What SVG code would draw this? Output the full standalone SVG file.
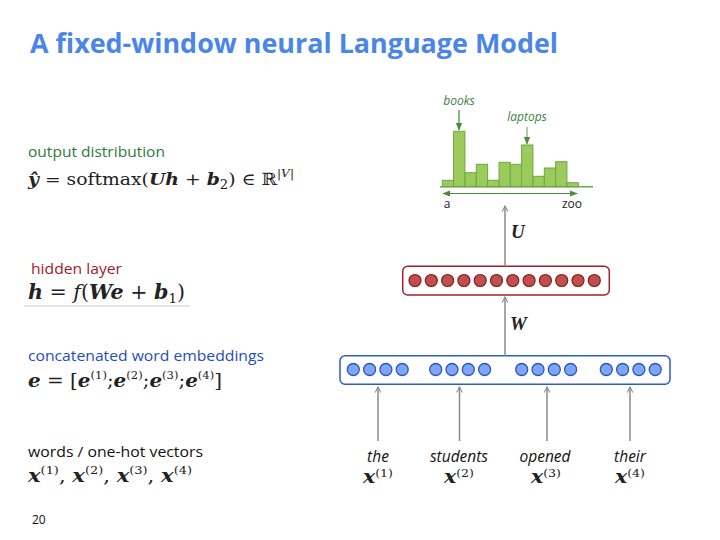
<svg xmlns="http://www.w3.org/2000/svg" width="720" height="540" viewBox="0 0 720 540">
<defs>
<marker id="gh" viewBox="0 0 10 10" refX="9" refY="5" markerWidth="7" markerHeight="7" orient="auto-start-reverse" markerUnits="userSpaceOnUse">
<path d="M1,1 L9,5 L1,9" fill="none" stroke="#8a8a8a" stroke-width="1.5"/>
</marker>
<marker id="gr" viewBox="0 0 10 10" refX="9" refY="5" markerWidth="8" markerHeight="8" orient="auto-start-reverse" markerUnits="userSpaceOnUse">
<path d="M0,1 L10,5 L0,9 Z" fill="#4e8a3e"/>
</marker>
</defs>
<style>
.sans{font-family:"Open Sans","Liberation Sans",sans-serif}
.math{font-family:"DejaVu Serif","Liberation Serif",serif;fill:#222}
.bi{font-weight:bold;font-style:italic}
.it{font-style:italic}
.bar{fill:#9bcb5b;stroke:#6fa648;stroke-width:1}
.hc{fill:#c0504d;stroke:#8b1a1a;stroke-width:1.2}
.ec{fill:#7ea6f2;stroke:#2a55c8;stroke-width:1.3}
.conn{stroke:#8a8a8a;stroke-width:1.5;fill:none}
.word{font-family:"Open Sans","Liberation Sans",sans-serif;font-style:italic;font-size:15.5px;fill:#111}
.sup{font-size:11px;font-weight:normal;font-style:normal}
.lu{font-family:"Liberation Serif",serif}
</style>
<rect width="720" height="540" fill="#fff"/>
<text x="30" y="53" class="sans" font-size="26" font-weight="bold" fill="#4a86e8" textLength="528" lengthAdjust="spacingAndGlyphs">A fixed-window neural Language Model</text>

<g id="label-output">
<text x="28" y="157" class="sans" font-size="15" fill="#2e7b3a" textLength="137" lengthAdjust="spacingAndGlyphs">output distribution</text>
<text x="28" y="185" class="math" font-size="17" textLength="266" lengthAdjust="spacingAndGlyphs"><tspan class="bi">ŷ</tspan> = softmax(<tspan class="bi">Uh</tspan> + <tspan class="bi">b</tspan><tspan font-size="12" dy="4">2</tspan><tspan dy="-4">) ∈ ℝ</tspan><tspan font-size="11" dy="-8">|<tspan class="it">V</tspan>|</tspan></text>
</g>
<g id="label-hidden">
<text x="31" y="274" class="sans" font-size="15" fill="#a3202a" textLength="91" lengthAdjust="spacingAndGlyphs">hidden layer</text>
<text x="28" y="299" class="math" font-size="20" textLength="157" lengthAdjust="spacingAndGlyphs"><tspan class="bi">h</tspan> = <tspan class="it">f</tspan>(<tspan class="bi">We</tspan> + <tspan class="bi">b</tspan><tspan font-size="13" dy="4">1</tspan><tspan dy="-4">)</tspan></text>
<line x1="24" y1="306" x2="190" y2="306" stroke="#c8c8c8" stroke-width="1"/>
</g>
<g id="label-embed">
<text x="28" y="361" class="sans" font-size="15" fill="#1f4bc1" textLength="236" lengthAdjust="spacingAndGlyphs">concatenated word embeddings</text>
<text x="28" y="387" class="math" font-size="19" textLength="194" lengthAdjust="spacingAndGlyphs"><tspan class="bi">e</tspan> = [<tspan class="bi">e</tspan><tspan class="sup" dy="-8">(1)</tspan><tspan dy="8">;</tspan><tspan class="bi">e</tspan><tspan class="sup" dy="-8">(2)</tspan><tspan dy="8">;</tspan><tspan class="bi">e</tspan><tspan class="sup" dy="-8">(3)</tspan><tspan dy="8">;</tspan><tspan class="bi">e</tspan><tspan class="sup" dy="-8">(4)</tspan><tspan dy="8">]</tspan></text>
</g>
<g id="label-words">
<text x="28" y="457" class="sans" font-size="15" fill="#111" textLength="175" lengthAdjust="spacingAndGlyphs">words / one-hot vectors</text>
<text x="28" y="482" class="math" font-size="18" textLength="164" lengthAdjust="spacingAndGlyphs"><tspan class="bi">x</tspan><tspan class="sup" dy="-8">(1)</tspan><tspan dy="8">, </tspan><tspan class="bi">x</tspan><tspan class="sup" dy="-8">(2)</tspan><tspan dy="8">, </tspan><tspan class="bi">x</tspan><tspan class="sup" dy="-8">(3)</tspan><tspan dy="8">, </tspan><tspan class="bi">x</tspan><tspan class="sup" dy="-8">(4)</tspan></text>
</g>
<text x="32" y="524" class="sans" font-size="12" fill="#111">20</text>

<g id="histogram">
<rect class="bar" x="442.3" y="180.3" width="11.33" height="6.4"/>
<rect class="bar" x="453.6" y="131.3" width="11.33" height="55.4"/>
<rect class="bar" x="465" y="172.7" width="11.33" height="14"/>
<rect class="bar" x="476.3" y="164.3" width="11.33" height="22.4"/>
<rect class="bar" x="487.6" y="180.3" width="11.33" height="6.4"/>
<rect class="bar" x="499" y="162.3" width="11.33" height="24.4"/>
<rect class="bar" x="510.3" y="164.3" width="11.33" height="22.4"/>
<rect class="bar" x="521.6" y="145" width="11.33" height="41.7"/>
<rect class="bar" x="533" y="176.3" width="11.33" height="10.4"/>
<rect class="bar" x="544.3" y="168" width="11.33" height="18.7"/>
<rect class="bar" x="555.6" y="161.7" width="11.33" height="25"/>
<rect class="bar" x="567" y="182.7" width="11.33" height="4"/>
<line x1="440" y1="186.7" x2="593" y2="186.7" stroke="#6fa648" stroke-width="1.6"/>
<line x1="443" y1="193.5" x2="577" y2="193.5" stroke="#4e8a3e" stroke-width="1.2" marker-start="url(#gr)" marker-end="url(#gr)"/>
<text x="447" y="208" class="sans" font-size="12" fill="#222" text-anchor="middle">a</text>
<text x="572" y="208" class="sans" font-size="12" fill="#222" text-anchor="middle">zoo</text>
<text x="459" y="105" class="sans" font-size="12" font-style="italic" fill="#3d7f45" text-anchor="middle">books</text>
<line x1="459" y1="110" x2="459" y2="130" stroke="#3d7f45" stroke-width="1.2" marker-end="url(#gr)"/>
<text x="527" y="121" class="sans" font-size="12" font-style="italic" fill="#3d7f45" text-anchor="middle">laptops</text>
<line x1="527" y1="127" x2="527" y2="144" stroke="#7fa87a" stroke-width="1.2" marker-end="url(#gr)"/>
</g>

<g id="hidden-layer">
<rect x="402.7" y="266.3" width="206.6" height="28.7" rx="5" fill="#fff" stroke="#a3202a" stroke-width="1.5"/>
<circle class="hc" cx="415" cy="280.5" r="6"/>
<circle class="hc" cx="431.3" cy="280.5" r="6"/>
<circle class="hc" cx="447.6" cy="280.5" r="6"/>
<circle class="hc" cx="463.9" cy="280.5" r="6"/>
<circle class="hc" cx="480.2" cy="280.5" r="6"/>
<circle class="hc" cx="496.5" cy="280.5" r="6"/>
<circle class="hc" cx="512.8" cy="280.5" r="6"/>
<circle class="hc" cx="529.1" cy="280.5" r="6"/>
<circle class="hc" cx="545.4" cy="280.5" r="6"/>
<circle class="hc" cx="561.7" cy="280.5" r="6"/>
<circle class="hc" cx="578" cy="280.5" r="6"/>
<circle class="hc" cx="594.3" cy="280.5" r="6"/>
</g>

<g id="embedding-layer">
<rect x="340" y="355.7" width="330" height="28.6" rx="5" fill="#fff" stroke="#2f5acb" stroke-width="1.5"/>
<circle class="ec" cx="353.3" cy="369.5" r="6"/>
<circle class="ec" cx="369.6" cy="369.5" r="6"/>
<circle class="ec" cx="385.9" cy="369.5" r="6"/>
<circle class="ec" cx="402.2" cy="369.5" r="6"/>
<circle class="ec" cx="435.7" cy="369.5" r="6"/>
<circle class="ec" cx="452" cy="369.5" r="6"/>
<circle class="ec" cx="468.3" cy="369.5" r="6"/>
<circle class="ec" cx="484.6" cy="369.5" r="6"/>
<circle class="ec" cx="521.7" cy="369.5" r="6"/>
<circle class="ec" cx="538" cy="369.5" r="6"/>
<circle class="ec" cx="554.3" cy="369.5" r="6"/>
<circle class="ec" cx="570.6" cy="369.5" r="6"/>
<circle class="ec" cx="606.3" cy="369.5" r="6"/>
<circle class="ec" cx="622.6" cy="369.5" r="6"/>
<circle class="ec" cx="638.9" cy="369.5" r="6"/>
<circle class="ec" cx="655.2" cy="369.5" r="6"/>
</g>

<g id="word-1">
<text x="378" y="462" class="word" text-anchor="middle">the</text>
<text x="378" y="483" class="math" font-size="18" text-anchor="middle" textLength="30" lengthAdjust="spacingAndGlyphs"><tspan class="bi">x</tspan><tspan class="sup" dy="-6">(1)</tspan></text>
</g>
<g id="word-2">
<text x="459" y="462" class="word" text-anchor="middle">students</text>
<text x="459" y="483" class="math" font-size="18" text-anchor="middle" textLength="30" lengthAdjust="spacingAndGlyphs"><tspan class="bi">x</tspan><tspan class="sup" dy="-6">(2)</tspan></text>
</g>
<g id="word-3">
<text x="545" y="462" class="word" text-anchor="middle">opened</text>
<text x="546" y="483" class="math" font-size="18" text-anchor="middle" textLength="30" lengthAdjust="spacingAndGlyphs"><tspan class="bi">x</tspan><tspan class="sup" dy="-6">(3)</tspan></text>
</g>
<g id="word-4">
<text x="630" y="462" class="word" text-anchor="middle">their</text>
<text x="630" y="483" class="math" font-size="18" text-anchor="middle" textLength="30" lengthAdjust="spacingAndGlyphs"><tspan class="bi">x</tspan><tspan class="sup" dy="-6">(4)</tspan></text>
</g>

<g id="connectors">
<line class="conn" x1="378" y1="441" x2="378" y2="387" marker-end="url(#gh)"/>
<line class="conn" x1="459.5" y1="441" x2="459.5" y2="387" marker-end="url(#gh)"/>
<line class="conn" x1="547" y1="441" x2="547" y2="387" marker-end="url(#gh)"/>
<line class="conn" x1="630" y1="441" x2="630" y2="387" marker-end="url(#gh)"/>
<line class="conn" x1="505" y1="355.7" x2="505" y2="297" marker-end="url(#gh)"/>
<line class="conn" x1="505" y1="266.3" x2="505" y2="206" marker-end="url(#gh)"/>
<text x="511" y="238" class="math bi lu" font-size="19">U</text>
<text x="510" y="330" class="math bi lu" font-size="19">W</text>
</g>
</svg>
